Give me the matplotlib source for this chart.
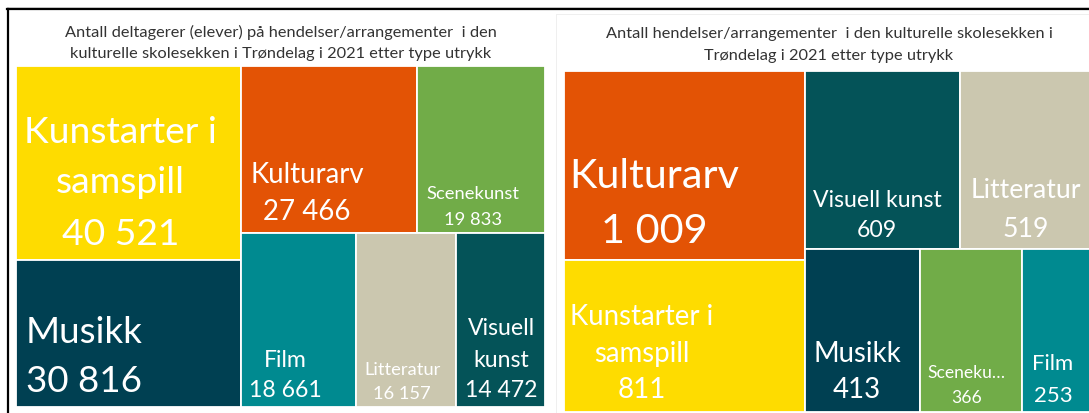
import matplotlib
matplotlib.use("Agg")
import matplotlib.pyplot as plt
from matplotlib.patches import Rectangle
from matplotlib.lines import Line2D

# ---------------- data ----------------
categories_deltagere = ["Kunstarter i samspill", "Musikk", "Kulturarv", "Scenekunst",
                        "Film", "Litteratur", "Visuell kunst"]
deltagere = [40521, 30816, 27466, 19833, 18661, 16157, 14472]

categories_hendelser = ["Kulturarv", "Kunstarter i samspill", "Visuell kunst", "Litteratur",
                        "Musikk", "Scenekunst", "Film"]
hendelser = [1009, 811, 609, 519, 413, 366, 253]

title_deltagere = ["Antall deltagerer (elever) på hendelser/arrangementer  i den",
                   "kulturelle skolesekken i Trøndelag i 2021 etter type utrykk"]
title_hendelser = ["Antall hendelser/arrangementer  i den kulturelle skolesekken i",
                   "Trøndelag i 2021 etter type utrykk"]

# ---------------- style ----------------
colors = {
    "Kunstarter i samspill": "#FEDC00",
    "Musikk": "#004052",
    "Kulturarv": "#E35305",
    "Scenekunst": "#71AC48",
    "Film": "#008A90",
    "Litteratur": "#CBC7AF",
    "Visuell kunst": "#045358",
}

FONT = "Lato"
K = 0.92 * 0.72  # Calibri em px -> Lato points

# label style: lines of name, em size (px), x-center fraction, baseline fractions (name lines + value)
labels_left = {
    "Kunstarter i samspill": (["Kunstarter i", "samspill"], 40.5, 0.465, [0.392, 0.650, 0.919]),
    "Musikk": (["Musikk"], 40, 0.303, [0.559, 0.891]),
    "Kulturarv": (["Kulturarv"], 30, 0.375, [0.695, 0.916]),
    "Scenekunst": (["Scenekunst"], 20, 0.436, [0.790, 0.946]),
    "Film": (["Film"], 25, 0.389, [0.764, 0.937]),
    "Litteratur": (["Litteratur"], 20, 0.462, [0.810, 0.948]),
    "Visuell kunst": (["Visuell", "kunst"], 25, 0.508, [0.580, 0.764, 0.937]),
}
labels_right = {
    "Kulturarv": (["Kulturarv"], 45, 0.376, [0.616, 0.907]),
    "Kunstarter i samspill": (["Kunstarter i", "samspill"], 30, 0.322, [0.424, 0.668, 0.905]),
    "Visuell kunst": (["Visuell kunst"], 25, 0.462, [0.761, 0.930]),
    "Litteratur": (["Litteratur"], 29, 0.496, [0.711, 0.930]),
    "Musikk": (["Musikk"], 30, 0.449, [0.690, 0.911]),
    "Scenekunst": (["Sceneku\u2026"], 19, 0.452, [0.788, 0.942]),
    "Film": (["Film"], 24, 0.437, [0.739, 0.936]),
}

W, H = 1089, 414
fig = plt.figure(figsize=(W / 100, H / 100), dpi=100)
fig.patch.set_facecolor("white")


def squarify(values, x, y, w, h):
    total = sum(values)
    vals = [v * w * h / total for v in values]
    rects = []
    while vals:
        short = min(w, h)

        def worst(r):
            s = sum(r)
            return max(max(s * s / (short * short * v), short * short * v / (s * s)) for v in r)

        row = [vals[0]]
        i = 1
        while i < len(vals) and worst(row + [vals[i]]) <= worst(row):
            row.append(vals[i])
            i += 1
        s = sum(row)
        if w >= h:
            cw = s / h
            yy = y
            for v in row:
                rh = v / cw
                rects.append((x, yy, cw, rh))
                yy += rh
            x += cw
            w -= cw
        else:
            rh = s / w
            xx = x
            for v in row:
                rw = v / rh
                rects.append((xx, y, rw, rh))
                xx += rw
            y += rh
            h -= rh
        vals = vals[i:]
    return rects


def fmt(v):
    return f"{v:,}".replace(",", " ")


def draw_treemap(cats, vals, box, labels):
    x0, y0, x1, y1 = box
    ax = fig.add_axes([x0 / W, 1 - y1 / H, (x1 - x0) / W, (y1 - y0) / H])
    bw, bh = x1 - x0, y1 - y0
    ax.set_xlim(0, bw)
    ax.set_ylim(bh, 0)
    ax.axis("off")
    rects = squarify(vals, 0, 0, bw, bh)
    for cat, v, (rx, ry, rw, rh) in zip(cats, vals, rects):
        ax.add_patch(Rectangle((rx, ry), rw, rh, facecolor=colors[cat],
                               edgecolor="white", linewidth=1.3, clip_on=False))
        lines, em, fx, fys = labels[cat]
        texts = lines + [fmt(v)]
        for t, fy in zip(texts, fys):
            ax.text(rx + fx * rw, ry + fy * rh, t, ha="center", va="baseline",
                    color="white", fontsize=em * K, family=FONT)
    return ax


draw_treemap(categories_deltagere, deltagere, (16, 67, 545, 408), labels_left)
draw_treemap(categories_hendelser, hendelser, (563.5, 71.5, 1092.5, 412.5), labels_right)

# titles
for lines, cx, bases in [(title_deltagere, 281, (37, 58)), (title_hendelser, 829, (38, 60))]:
    for t, b in zip(lines, bases):
        fig.text(cx / W, 1 - b / H, t, ha="center", va="baseline",
                 color="#333333", fontsize=17.8 * K, family=FONT)

# frame lines of the screenshot
fig.add_artist(Line2D([7 / W, 1], [1 - 8 / H, 1 - 8 / H], color="#d8d8d8", lw=0.7))
fig.add_artist(Line2D([7 / W, 1], [1 - 10 / H, 1 - 10 / H], color="black", lw=1.6))
fig.add_artist(Line2D([8 / W, 8 / W], [0, 1 - 10 / H], color="black", lw=1.6))
fig.add_artist(Line2D([556 / W, 556 / W], [0, 1 - 15 / H], color="#efefef", lw=0.7))
fig.add_artist(Line2D([556 / W, 1], [1 - 15 / H, 1 - 15 / H], color="#efefef", lw=0.7))

fig.savefig("out.png", dpi=100)
